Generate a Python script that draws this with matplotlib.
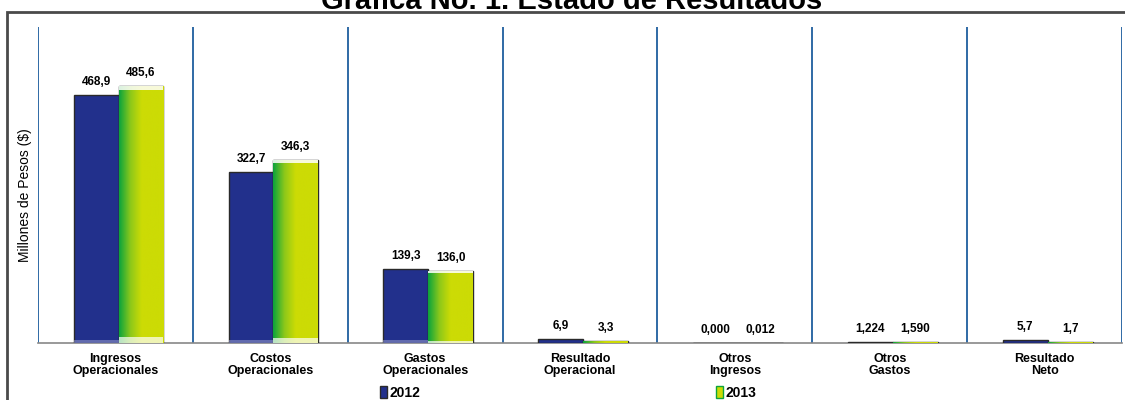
import numpy as np
import matplotlib
matplotlib.use("Agg")
import matplotlib.pyplot as plt
from matplotlib.patches import Rectangle, Patch
from matplotlib.colors import LinearSegmentedColormap

plt.rcParams["font.family"] = ["Liberation Sans", "DejaVu Sans"]

# data
categories = ["Ingresos\nOperacionales", "Costos\nOperacionales", "Gastos\nOperacionales",
              "Resultado\nOperacional", "Otros\nIngresos", "Otros\nGastos", "Resultado\nNeto"]
valores_2012 = [468.9, 322.7, 139.3, 6.9, 0.000, 1.224, 5.7]
valores_2013 = [485.6, 346.3, 136.0, 3.3, 0.012, 1.590, 1.7]
decimales = [1, 1, 1, 1, 3, 3, 1]
series = ["2012", "2013"]

AZUL = "#22308C"
VERDE_OSC = "#0DA43C"
AMARILLO = "#CCDB05"


def fmt(v, d):
    return f"{v:.{d}f}".replace(".", ",")


fig = plt.figure(figsize=(11.25, 4), dpi=100)
ax = fig.add_axes([0.0338, 0.1425, 0.9636, 0.79])

# outer frame of the picture
fig.patches.append(Rectangle((0.0065, -0.1), 1.2, 1.07, transform=fig.transFigure,
                             fill=False, edgecolor="#4a4a4a", linewidth=2.0))

x = np.arange(len(categories))
w = 0.29
b1 = ax.bar(x - 0.125, valores_2012, w, color=AZUL, edgecolor="#2a2a2a", linewidth=1.0, zorder=3)
b2 = ax.bar(x + 0.165, valores_2013, w, color=AMARILLO, edgecolor="#2a2a2a", linewidth=1.0, zorder=3)

# green -> yellow gradient inside the 2013 bars
grad = LinearSegmentedColormap.from_list("g", [VERDE_OSC, "#8CC81A", AMARILLO, AMARILLO, AMARILLO])
row = np.linspace(0, 1, 64).reshape(1, -1)
for bar in b2:
    h = bar.get_height()
    if h <= 0:
        continue
    x0 = bar.get_x()
    bw = bar.get_width()
    im = ax.imshow(row, cmap=grad, aspect="auto", zorder=3.5, extent=(x0, x0 + bw, 0, h))
    im.set_clip_path(bar)
    # light rims at top and bottom
    rim = min(7, h * 0.03)
    ax.bar(x0 + bw / 2, rim, bw, bottom=h - rim, color="white", alpha=0.85, zorder=3.6, linewidth=0)
    ax.bar(x0 + bw / 2, min(12, h * 0.03), bw, color="white", alpha=0.7, zorder=3.6, linewidth=0)

for bar in b1:
    h = bar.get_height()
    if h > 20:
        ax.bar(bar.get_x() + bar.get_width() / 2, 6, bar.get_width(), color="#8d93c8",
               alpha=0.6, zorder=3.6, linewidth=0)

for bars, vals in ((b1, valores_2012), (b2, valores_2013)):
    for bar, v, d in zip(bars, vals, decimales):
        ax.annotate(fmt(v, d), (bar.get_x() + bar.get_width() / 2, bar.get_height()),
                    xytext=(0, 5), textcoords="offset points", ha="center", va="bottom",
                    fontsize=8.5, fontweight="bold", zorder=5)

for xs in np.arange(len(categories) + 1) - 0.5:
    ax.axvline(xs, color="#1F5E9E", linewidth=1.3, zorder=1)

ax.set_xlim(-0.5, len(categories) - 0.5)
ax.set_ylim(0, 597)
ax.set_yticks([])
ax.set_xticks(x)
ax.set_xticklabels(categories, fontsize=9, fontweight="bold", linespacing=1.05)
ax.tick_params(axis="x", length=0, pad=7)
for s in ("top", "right", "left"):
    ax.spines[s].set_visible(False)
ax.spines["bottom"].set_color("#888888")
ax.spines["bottom"].set_linewidth(1.2)

fig.text(0.022, 0.5125, "Millones de Pesos ($)", rotation=90, ha="center", va="center",
         fontsize=10)

fig.text(0.508, 0.978, "Gráfica No. 1. Estado de Resultados", ha="center", va="baseline",
         fontsize=21, fontweight="bold")

handles = [Patch(facecolor=AZUL, edgecolor="#2a2a2a"), Patch(facecolor=AMARILLO, edgecolor=VERDE_OSC)]
fig.legend(handles, series, loc="center", bbox_to_anchor=(0.505, 0.018), ncol=2, frameon=False,
           prop={"size": 10, "weight": "bold"}, handlelength=0.5, handleheight=0.9,
           handletextpad=0.15, columnspacing=21.3, borderaxespad=0)

fig.savefig("out.png", dpi=100)
